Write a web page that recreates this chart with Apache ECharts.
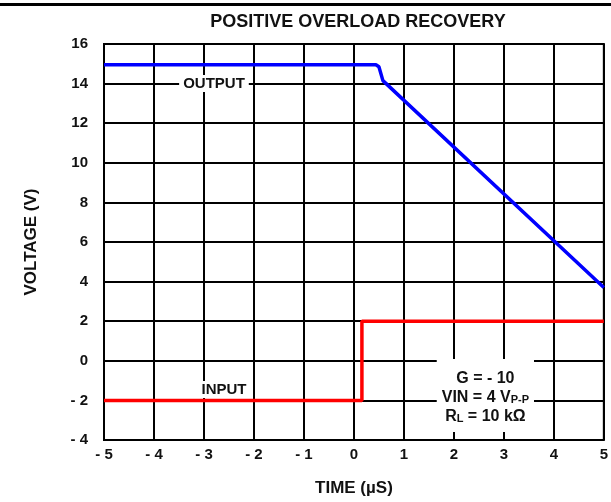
<!DOCTYPE html>
<html>
<head>
<meta charset="utf-8">
<script src="https://cdn.jsdelivr.net/npm/echarts@6/dist/echarts.min.js"></script>
<style>
  html, body { margin: 0; padding: 0; background: #fff; }
  #chart { width: 611px; height: 502px; }
</style>
</head>
<body>
<div id="chart"></div>
<script>
const FONT = "'Liberation Sans Narrow', 'Liberation Sans', Arial, sans-serif"

// output trace (time in µs, voltage in V)
const outputTime = [-5, 0.44, 0.5, 0.58, 5]
const outputVolt = [14.95, 14.95, 14.85, 14.15, 3.7]

// input trace
const inputTime = [-5, 0.16, 0.16, 5]
const inputVolt = [-2, -2, 2, 2]

const xTicks = [-5, -4, -3, -2, -1, 0, 1, 2, 3, 4, 5]
const yTicks = [-4, -2, 0, 2, 4, 6, 8, 10, 12, 14, 16]

const fmt = v => (v < 0 ? '- ' + Math.abs(v) : String(v))
const pairs = (xs, ys) => xs.map((x, i) => [x, ys[i]])

// invisible anchor for the text labels
const anchor = { symbol: 'circle', symbolSize: 1, itemStyle: { color: 'rgba(0,0,0,0)' } }

const chart = echarts.init(document.getElementById('chart'))

const option = {
  backgroundColor: '#fff',
  animation: false,
  textStyle: { fontFamily: FONT },
  grid: {
    left: 104, right: 5, top: 44, bottom: 56,
    show: true, borderColor: '#000', borderWidth: 2
  },
  graphic: [
    { type: 'rect', shape: { x: 0, y: 3, width: 611, height: 3 }, style: { fill: '#000' } },
    {
      type: 'text', x: 358, y: 22,
      style: {
        text: 'POSITIVE OVERLOAD RECOVERY', fontFamily: FONT, fontWeight: 'bold',
        fontSize: 18, fill: '#111', textAlign: 'center', textVerticalAlign: 'middle'
      }
    }
  ],
  xAxis: {
    type: 'value', min: xTicks[0], max: xTicks[xTicks.length - 1], interval: 1,
    name: 'TIME (µS)', nameLocation: 'middle', nameGap: 40,
    nameTextStyle: { fontFamily: FONT, fontWeight: 'bold', fontSize: 17, color: '#111' },
    axisLine: { show: true, lineStyle: { color: '#000', width: 2 } },
    axisTick: { show: false },
    axisLabel: { formatter: fmt, margin: 7, fontFamily: FONT, fontWeight: 'bold', fontSize: 15, color: '#111' },
    splitLine: { show: true, lineStyle: { color: '#000', width: 2 } }
  },
  yAxis: {
    type: 'value', min: yTicks[0], max: yTicks[yTicks.length - 1], interval: 2,
    name: 'VOLTAGE (V)', nameLocation: 'middle', nameGap: 64, nameRotate: 90,
    nameTextStyle: { fontFamily: FONT, fontWeight: 'bold', fontSize: 17, color: '#111' },
    axisLine: { show: true, lineStyle: { color: '#000', width: 2 } },
    axisTick: { show: false },
    axisLabel: { formatter: fmt, margin: 16, fontFamily: FONT, fontWeight: 'bold', fontSize: 15, color: '#111' },
    splitLine: { show: true, lineStyle: { color: '#000', width: 2 } }
  },
  series: [
    {
      name: 'OUTPUT', type: 'line', data: pairs(outputTime, outputVolt),
      symbol: 'none', lineStyle: { color: '#0000ff', width: 3.5 }, z: 3,
      markPoint: {
        ...anchor, silent: true,
        data: [{
          coord: [-2.8, 14],
          label: {
            show: true, formatter: 'OUTPUT', position: 'inside',
            fontFamily: FONT, fontWeight: 'bold', fontSize: 15, color: '#111',
            backgroundColor: '#fff', padding: [1, 4]
          }
        }]
      }
    },
    {
      name: 'INPUT', type: 'line', data: pairs(inputTime, inputVolt),
      symbol: 'none', lineStyle: { color: '#ff0000', width: 3.5 }, z: 4,
      markPoint: {
        ...anchor, silent: true,
        data: [
          {
            coord: [-2.6, -1.45],
            label: {
              show: true, formatter: 'INPUT', position: 'inside',
              fontFamily: FONT, fontWeight: 'bold', fontSize: 15, color: '#111',
              backgroundColor: '#fff', padding: [1, 3]
            }
          },
          {
            coord: [2.63, -1.75],
            label: {
              show: true, position: 'inside',
              formatter: '{a|G = - 10}\n{a|VIN = 4 V}{s|P-P}\n{a|R}{s|L}{a| = 10 kΩ}',
              backgroundColor: '#fff', padding: [10, 5, 6, 5], align: 'center',
              rich: {
                a: { fontFamily: FONT, fontWeight: 'bold', fontSize: 16, color: '#111', lineHeight: 19 },
                s: { fontFamily: FONT, fontWeight: 'bold', fontSize: 11, color: '#111', lineHeight: 19, verticalAlign: 'bottom', padding: [0, 0, 1, 0] }
              }
            }
          }
        ]
      }
    }
  ]
}

chart.setOption(option)
</script>
</body>
</html>
